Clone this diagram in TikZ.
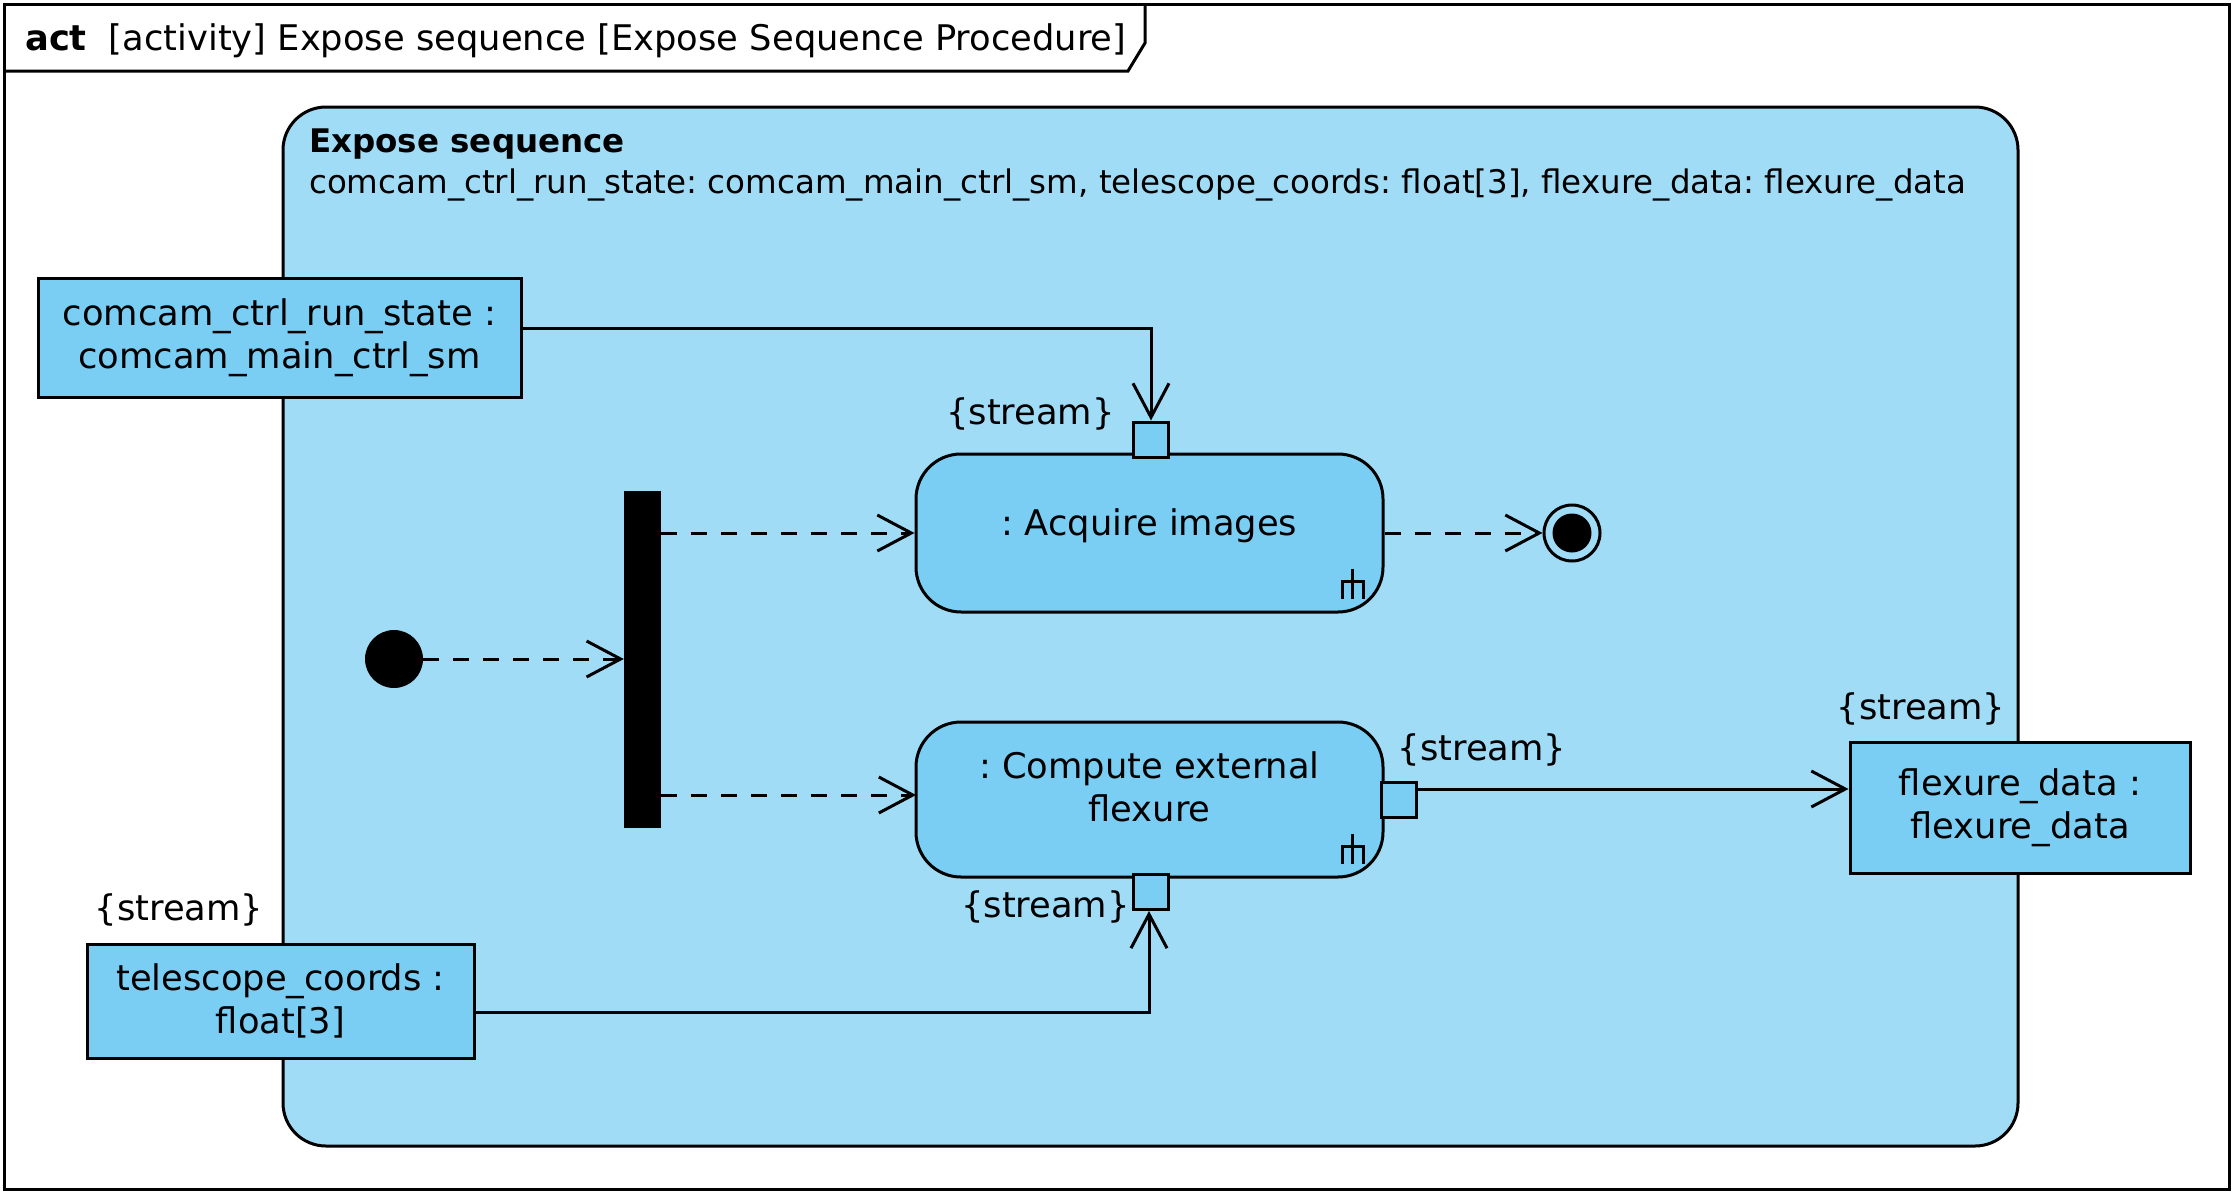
\documentclass[tikz,border=0pt]{standalone}
\usepackage{fontspec}
\setmainfont{DejaVu Sans}
\usetikzlibrary{arrows.meta}
\definecolor{regionblue}{RGB}{161,220,247}
\definecolor{nodeblue}{RGB}{122,206,243}
\tikzset{
  objbox/.style={draw, fill=nodeblue, rectangle, align=center, inner sep=0pt, line width=3pt},
  actbox/.style={draw, fill=nodeblue, rounded corners=45pt, align=center, inner sep=0pt, line width=3pt},
  pinbox/.style={draw, fill=nodeblue, minimum size=35pt, inner sep=0pt, line width=3pt},
  flow/.style={line width=3pt, -{Straight Barb[length=34pt,width=36pt,line width=3pt]}},
  ctrl/.style={flow, dash pattern=on 16pt off 14pt},
  lbl/.style={inner sep=0pt},
  rakeline/.style={line width=3pt},
  hdrfont/.style={font=\fontsize{32.5}{40}\selectfont}
}
\begin{document}
\frenchspacing
\begin{tikzpicture}[x=1pt,y=-1pt,font=\fontsize{35.3}{43.5}\selectfont]
\useasboundingbox (0,0) rectangle (2233,1192);
\fill[white] (0,0) rectangle (2233,1192);
% frame
\draw[line width=3pt] (4,4) rectangle (2229,1189);
\draw[line width=3pt] (4,71) -- (1128,71) -- (1145,43) -- (1145,4);
\node[lbl, anchor=west] (title) at (25,41) {\textbf{act}\hspace{22pt}[activity] Expose sequence [Expose Sequence Procedure]};
% activity region
\draw[line width=3pt, fill=regionblue, rounded corners=43pt] (283,107) rectangle (2018,1146);
\node[lbl, hdrfont, anchor=west] (rname) at (309,144) {\textbf{Expose sequence}};
\node[lbl, hdrfont, anchor=west] (rparams) at (309,185) {comcam\_ctrl\_run\_state: comcam\_main\_ctrl\_sm, telescope\_coords: float[3], flexure\_data: flexure\_data};
% object nodes
\node[objbox, minimum width=483pt, minimum height=119pt] (comcam) at (279.5,337.5) {comcam\_ctrl\_run\_state :\\comcam\_main\_ctrl\_sm};
\node[objbox, minimum width=387pt, minimum height=114pt] (telescope) at (280.5,1001) {telescope\_coords :\\float[3]};
\node[objbox, minimum width=340pt, minimum height=131pt] (flex) at (2020,807.5) {flexure\_data :\\flexure\_data};
% actions
\node[actbox, minimum width=467pt, minimum height=158pt] (act) at (1149.5,533) {\raisebox{22pt}{: Acquire images}};
\node[actbox, minimum width=467pt, minimum height=155pt] (comp) at (1149.5,799.5) {\raisebox{8pt}[\height][\depth]{\begin{tabular}{@{}c@{}}: Compute external\\flexure\end{tabular}}};
\draw[rakeline, shift={(act.south east)}] (-32,-45) -- (-32,-15) (-42.5,-15) -- (-42.5,-32) -- (-21.5,-32) -- (-21.5,-15);
\draw[rakeline, shift={(comp.south east)}] (-32,-45) -- (-32,-15) (-42.5,-15) -- (-42.5,-32) -- (-21.5,-32) -- (-21.5,-15);
% pins
\node[pinbox] (pinT) at (1151,439.5) {};
\node[pinbox] (pinR) at (1398.5,800) {};
\node[pinbox] (pinB) at (1151,892) {};
\node[lbl, anchor=east] (sT) at (1115,414) {\{stream\}};
\node[lbl, anchor=east] (sB) at (1130,907) {\{stream\}};
\node[lbl] (sR) at (1482,750) {\{stream\}};
\node[lbl] (sF) at (1921,709) {\{stream\}};
\node[lbl] (sTel) at (179,910) {\{stream\}};
% control nodes
\node[circle, fill=black, minimum size=58pt, inner sep=0pt] (init) at (394,659) {};
\node[fill=black, minimum width=37pt, minimum height=337pt, inner sep=0pt] (fork) at (642.5,659.5) {};
\node[circle, draw, line width=3pt, fill=regionblue, minimum size=56pt, inner sep=0pt] (final) at (1572,533) {};
\fill (final.center) circle (19.5pt);
% object flows
\coordinate (c1) at (1151,328);
\draw[flow] (comcam.east |- c1) -- (c1) -- (pinT.north);
\coordinate (c2) at (1149,1012);
\draw[flow] (telescope.east |- c2) -- (c2) -- (c2 |- pinB.south);
\coordinate (c3) at (1416,789);
\draw[flow] (c3) -- (c3 -| flex.west);
% control flows
\draw[ctrl] (init.east) -- (init -| fork.west);
\draw[ctrl] (fork.east |- act.west) -- (act.west);
\coordinate (c4) at (916,795);
\draw[ctrl] (fork.east |- c4) -- (c4);
\draw[ctrl] (act.east) -- (final.west);
\end{tikzpicture}
\end{document}
